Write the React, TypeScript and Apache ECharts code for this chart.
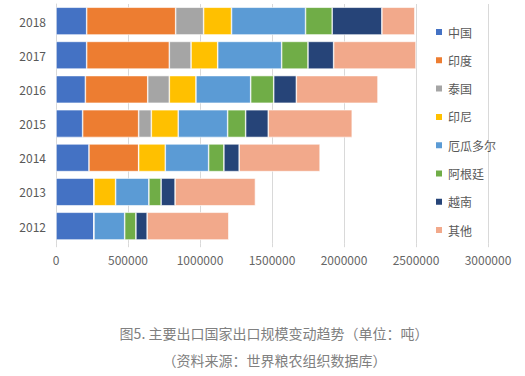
import React, { useEffect, useRef } from "react";
import * as echarts from "echarts";

const years = ["2012", "2013", "2014", "2015", "2016", "2017", "2018"];
const seriesNames = ["中国", "印度", "泰国", "印尼", "厄瓜多尔", "阿根廷", "越南", "其他"];
const china = [264000, 264000, 229000, 185000, 204000, 213000, 213000];
const india = [0, 0, 345000, 389000, 433000, 574000, 618000];
const thailand = [0, 0, 0, 88000, 150000, 151000, 194000];
const indonesia = [0, 150000, 185000, 187000, 185000, 185000, 194000];
const ecuador = [213000, 231000, 301000, 343000, 380000, 444000, 514000];
const argentina = [78000, 85000, 106000, 125000, 160000, 183000, 185000];
const vietnam = [78000, 97000, 106000, 157000, 157000, 178000, 345000];
const others = [567000, 558000, 562000, 583000, 567000, 572000, 229000];
const xTicks = { min: 0, max: 3000000, interval: 500000 };
const titleLine1 = "图5. 主要出口国家出口规模变动趋势（单位：吨）";
const titleLine2 = "（资料来源：世界粮农组织数据库）";

const colors = ["#4472C4", "#ED7D31", "#A5A5A5", "#FFC000", "#5B9BD5", "#70AD47", "#264478", "#F2A98B"];
const dataSets = [china, india, thailand, indonesia, ecuador, argentina, vietnam, others];

const FONT = "'Noto Sans CJK SC', 'Noto Sans', sans-serif";

export default function App() {
  const ref = useRef<HTMLDivElement>(null);
  useEffect(() => {
    if (!ref.current) return;
    const chart = echarts.init(ref.current, undefined, { renderer: "svg" });
    chart.setOption({
      animation: false,
      color: colors,
      textStyle: { fontFamily: FONT },
      grid: { left: 56, right: 37, top: 4, bottom: 132.8, containLabel: false },
      legend: {
        orient: "vertical",
        left: 434,
        top: 26,
        padding: 0,
        itemWidth: 8,
        itemHeight: 8,
        itemGap: 16.3,
        icon: "rect",
        data: seriesNames,
        textStyle: { fontSize: 12, color: "#595959", fontFamily: FONT },
      },
      xAxis: {
        type: "value",
        min: xTicks.min,
        max: xTicks.max,
        interval: xTicks.interval,
        axisLine: { show: false },
        axisTick: { show: true, length: 4, lineStyle: { color: "#d9d9d9" } },
        splitLine: { show: true, lineStyle: { color: "#d9d9d9", width: 1 } },
        axisLabel: {
          color: "#666",
          fontSize: 12,
          margin: 10,
          fontFamily: FONT,
          formatter: (v: number) => String(v),
        },
      },
      yAxis: {
        type: "category",
        data: years,
        axisLine: { show: true, lineStyle: { color: "#d9d9d9" } },
        axisTick: { show: false },
        axisLabel: { color: "#595959", fontSize: 12, margin: 10, fontFamily: FONT },
      },
      series: seriesNames.map((name, i) => ({
        name,
        type: "bar",
        stack: "total",
        barCategoryGap: "19%",
        data: dataSets[i],
        itemStyle: { color: colors[i], borderColor: "#ffffff", borderWidth: 0.6 },
      })),
      graphic: [
        {
          type: "text",
          x: 274,
          y: 333,
          style: {
            text: titleLine1,
            fill: "#808080",
            font: `14px ${FONT}`,
            align: "center",
            verticalAlign: "middle",
          },
        },
        {
          type: "text",
          x: 274.5,
          y: 360,
          style: {
            text: titleLine2,
            fill: "#808080",
            font: `14px ${FONT}`,
            align: "center",
            verticalAlign: "middle",
          },
        },
      ],
    });
    return () => chart.dispose();
  }, []);
  return (
    <div
      ref={ref}
      style={{ position: "fixed", left: 0, top: 0, width: 525, height: 376, background: "#fff" }}
    />
  );
}
